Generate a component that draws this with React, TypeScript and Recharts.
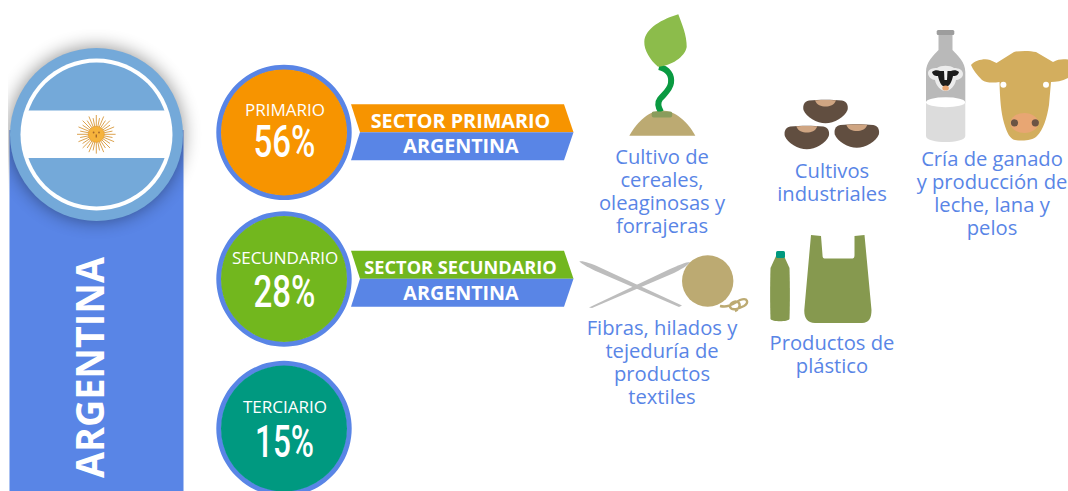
import React from 'react';
import { PieChart, Pie, Cell } from 'recharts';

// sector shares of Argentina
const sectorNames = ['PRIMARIO', 'SECUNDARIO', 'TERCIARIO'];
const sectorShares = [56, 28, 15];
const sectorColors = ['#f79400', '#72b71e', '#009980'];

const bannerTitles = ['SECTOR PRIMARIO', 'SECTOR SECUNDARIO'];
const countryName = 'ARGENTINA';

const activityCaptions = [
    ['Cultivo de', 'cereales,', 'oleaginosas y', 'forrajeras'],
    ['Cultivos', 'industriales'],
    ['Cría de ganado', 'y producción de', 'leche, lana y', 'pelos'],
    ['Fibras, hilados y', 'tejeduría de', 'productos', 'textiles'],
    ['Productos de', 'plástico'],
];

const WIDTH = 1068;
const HEIGHT = 491;
const BLUE = '#5985e6';
const SKY = '#74a9d9';
const FONT = '"Open Sans", "Noto Sans", sans-serif';

// layout only
const CIRCLE_X = 284;
const CIRCLE_Y = [132.4, 279, 428.5];
const NAME_BASE = [116, 264, 413];
const SHARE_BASE = [157, 307, 457];
const CAPTION_POS = [
    { x: 662, y: 164 },
    { x: 832, y: 178 },
    { x: 992, y: 166 },
    { x: 662, y: 335 },
    { x: 832, y: 350 },
];
const BANNER_TOP = [104.3, 250.7];

const Banner = ({ index }: { index: number }) => {
    const top = BANNER_TOP[index];
    const mid = top + 28;
    const bottom = top + 56;
    return (
        <g>
            <polygon points={`351,${top} 564,${top} 573.5,${mid} 360,${mid}`} fill={sectorColors[index]} />
            <polygon points={`360,${mid} 573.5,${mid} 564,${bottom} 351,${bottom}`} fill={BLUE} />
            <text x={460.5} y={mid - 4.5} textAnchor="middle" fill="#fff" fontFamily={FONT} fontWeight={700} fontSize={index === 0 ? 19.8 : 18.2}>
                {bannerTitles[index]}
            </text>
            <text x={461} y={mid + 21} textAnchor="middle" fill="#fff" fontFamily={FONT} fontWeight={700} fontSize={19.7}>
                {countryName}
            </text>
        </g>
    );
};

const Badge = () => {
    const rays = Array.from({ length: 32 }, (_, i) => i * 11.25);
    return (
        <g>
            <defs>
                <filter id="soft" x="-40%" y="-40%" width="180%" height="180%">
                    <feGaussianBlur stdDeviation="9" />
                </filter>
                <clipPath id="page">
                    <rect x={8} y={0} width={WIDTH} height={HEIGHT} />
                </clipPath>
                <clipPath id="flagTop">
                    <rect x={0} y={0} width={200} height={110.5} />
                </clipPath>
                <clipPath id="flagBottom">
                    <rect x={0} y={158} width={200} height={80} />
                </clipPath>
            </defs>
            <rect x={9.5} y={130} width={174} height={361} fill={BLUE} />
            <g clipPath="url(#page)">
                <circle cx={96} cy={134} r={87} fill="#000" opacity={0.42} filter="url(#soft)" />
            </g>
            <circle cx={96.5} cy={134.5} r={86.5} fill={SKY} />
            <circle cx={96.5} cy={134.5} r={76} fill="#fff" />
            <circle cx={96.5} cy={134.5} r={72} fill={SKY} clipPath="url(#flagTop)" />
            <circle cx={96.5} cy={134.5} r={72} fill={SKY} clipPath="url(#flagBottom)" />
            {rays.map((a, i) => {
                const rad = (a * Math.PI) / 180;
                const len = i % 2 === 0 ? 19.3 : 16.5;
                return (
                    <line
                        key={a}
                        x1={96.3}
                        y1={134.3}
                        x2={96.3 + Math.cos(rad) * len}
                        y2={134.3 + Math.sin(rad) * len}
                        stroke="#d8983c"
                        strokeWidth={0.9}
                    />
                );
            })}
            <circle cx={96.3} cy={134.3} r={8} fill="#f6b33c" stroke="#e09a30" strokeWidth={0.6} />
            <circle cx={93.6} cy={132.5} r={0.9} fill="#a5682a" />
            <circle cx={99} cy={132.5} r={0.9} fill="#a5682a" />
            <rect x={95.6} y={134.5} width={1.4} height={3} fill="#a5682a" />
            <text
                transform="translate(103.5,478) rotate(-90)"
                fill="#fff"
                fontFamily={FONT}
                fontWeight={700}
                fontSize={40}
                textLength={221}
                lengthAdjust="spacingAndGlyphs"
            >
                {countryName}
            </text>
        </g>
    );
};

const Seed = ({ x, y }: { x: number; y: number }) => (
    <g transform={`translate(${x},${y})`}>
        <path d="M6,0.6 C16,-0.4 29,-0.4 39,0.6 C44,1.5 45.5,6 44.5,10 C42,17 31,23.3 22.5,23.3 C14,23.3 3,17 0.5,10 C-0.5,6 1,1.5 6,0.6 Z" fill="#614e40" />
        <path d="M12,0.3 C18,0 27,0 33,0.3 C31,5.5 27,6.5 22.5,6.5 C18,6.5 14,5.5 12,0.3 Z" fill="#cfa582" />
    </g>
);

const Icons = () => (
    <g>
        {/* seedling */}
        <path d="M629.3,135.7 C637,122 649,110.5 662,110.5 C675,110.5 688,122 695.3,135.7 Z" fill="#bcaa72" />
        <path d="M659,67 C668,69 672,75 671,83 C670,90 664,94 660,99 C657,103 658,107 661,112" fill="none" stroke="#0a9a41" strokeWidth={6} />
        <rect x={651.7} y={111.5} width={20.5} height={6} rx={2} fill="#8a9c5c" />
        <path d="M678.3,14.3 C682,24 687,36 686.7,47 C685,57 671,66 658,66.7 C650,60 644,50 644.3,41.7 C645,28 663,19 678.3,14.3 Z" fill="#8cbc4b" />
        {/* beans */}
        <Seed x={803} y={100} />
        <Seed x={784.3} y={126} />
        <Seed x={834.3} y={124.5} />
        {/* milk bottle */}
        <path d="M938.5,34 L952.5,34 L952.5,50 C958,56 965.3,62 965.3,72 L965.3,103 L926,103 L926,72 C926,62 933,56 938.5,50 Z" fill="#b9b9b9" />
        <rect x={936.7} y={30} width={17.6} height={5} rx={1.5} fill="#9d9d9d" />
        <path d="M926,102 L965.3,102 L965.3,136 C965.3,140 955,142 945.6,142 C936,142 926,140 926,136 Z" fill="#dcdcdc" />
        <ellipse cx={945.6} cy={102.3} rx={19.6} ry={5} fill="#fff" />
        <path d="M928,73 C928,69 933,68 937,68 C941,65 950,65 954,68 C959,68 963,70 963,74 C963,78 958,80 956,80 C955,86 950,91 945.6,91 C941,91 936,86 935,80 C932,80 928,77 928,73 Z" fill="#ececec" />
        <path d="M932,72 C934,70 938,70 940,71 L951,71 C953,70 957,70 959,72 C958,76 955,76 953,76 C952,81 950,85 948,86 L943,86 C941,85 939,81 938,76 C936,76 933,76 932,72 Z" fill="#1d1d1d" />
        <path d="M944,71 L947.5,71 L947,80 L944.5,80 Z" fill="#f4f4f4" />
        <ellipse cx={945.6} cy={88} rx={3.3} ry={2.6} fill="#e8a673" />
        {/* cow head */}
        <path d="M971,65 C975,60 985,58 990,60 L996.5,63 L1014,52 C1020,50.5 1030,50.5 1036,52 L1053,62 C1058,59 1063,59 1068,59.5 L1068,78 C1062,81 1056,82 1051,82 L1049,105 C1047,118 1043,130 1037,136 C1032,141 1022,141 1015,140 C1010,139 1007,133 1004,123 C1001,112 1000,100 999.5,82 C993,83 986,83 982,80 C977,75 973,70 971,65 Z" fill="#d3ae5e" />
        <circle cx={1003.4} cy={84.7} r={3} fill="#fff" />
        <circle cx={1046} cy={84.7} r={3} fill="#fff" />
        <ellipse cx={1024.3} cy={123} rx={14} ry={10} fill="#e8a673" />
        <circle cx={1014.5} cy={122.8} r={3.6} fill="#6b5444" />
        <circle cx={1035.3} cy={122.8} r={3.6} fill="#6b5444" />
        {/* needles and yarn */}
        <path d="M579.3,261.4 C583,260.6 590,263 600,267.5 L682,305.6 L679,307 L598,272 C590,268.5 582,263.8 579.3,261.4 Z" fill="#bdbdbd" />
        <path d="M589,307.5 L670,269 C678,265.5 686,262 690,262 C688,265.5 680,270 674,273 L592,308 Z" fill="#bdbdbd" />
        <circle cx={707.7} cy={281} r={25.7} fill="#bcaa72" />
        <path d="M720,306 C728,308 733,304 740,300 C748,297 749,303 744,306 C738,309 732,311 730,307 C730,302 736,300 739,303 C741,306 738,310 735,311" fill="none" stroke="#bcaa72" strokeWidth={2.4} />
        {/* plastic bottle and bag */}
        <path d="M776,256 L784,256 L789.5,268 C790,285 790,305 789.5,319 C788,322 772,322 770.5,319 C770,305 770,285 770.5,268 Z" fill="#86994f" />
        <rect x={776} y={251} width={9} height={7} rx={1.5} fill="#00997f" />
        <path d="M811,235 L821,236 L822.5,255 C822.5,258 823.5,258.5 826,258.5 L851,258.5 C853.5,258.5 854.5,258 854.5,255 L854.5,236 L864.5,235 L871.5,310 C871.5,318 869,323 862,323 L815,323 C807,323 804,317 804.3,310 Z" fill="#86994f" />
    </g>
);

const Captions = () => (
    <g fill={BLUE} fontFamily={FONT} fontWeight={500} fontSize={20.2} textAnchor="middle">
        {activityCaptions.map((lines, i) => (
            <text key={i}>
                {lines.map((line, j) => (
                    <tspan key={j} x={CAPTION_POS[i].x} y={CAPTION_POS[i].y + j * 23}>
                        {line}
                    </tspan>
                ))}
            </text>
        ))}
    </g>
);

const App = () => (
    <div style={{ position: 'absolute', left: 0, top: 0, width: WIDTH, height: HEIGHT, overflow: 'hidden', background: '#fff' }}>
        <PieChart width={WIDTH} height={HEIGHT} margin={{ top: 0, right: 0, bottom: 0, left: 0 }}>
            <Badge />
            <Icons />
            <Banner index={0} />
            <Banner index={1} />
            <Captions />
            {sectorNames.map((name, i) => (
                <Pie
                    key={`ring-${name}`}
                    data={[{ name, value: sectorShares[i] }]}
                    dataKey="value"
                    cx={CIRCLE_X}
                    cy={CIRCLE_Y[i]}
                    innerRadius={62.5}
                    outerRadius={67.7}
                    startAngle={90}
                    endAngle={-270}
                    stroke="none"
                    isAnimationActive={false}
                >
                    <Cell fill={BLUE} />
                </Pie>
            ))}
            {sectorNames.map((name, i) => (
                <Pie
                    key={`fill-${name}`}
                    data={[{ name, value: sectorShares[i] }]}
                    dataKey="value"
                    cx={CIRCLE_X}
                    cy={CIRCLE_Y[i]}
                    innerRadius={0}
                    outerRadius={63}
                    startAngle={90}
                    endAngle={-270}
                    stroke="none"
                    isAnimationActive={false}
                    labelLine={false}
                    label={() => (
                        <g>
                            <text x={285} y={NAME_BASE[i]} textAnchor="middle" fill="#fff" fontFamily={FONT} fontSize={17}>
                                {name}
                            </text>
                            <text
                                x={284.5}
                                y={SHARE_BASE[i]}
                                textAnchor="middle"
                                fill="#fff"
                                fontFamily="Roboto, sans-serif"
                                fontWeight={500}
                                fontSize={44}
                                textLength={i === 2 ? 59 : 62}
                                lengthAdjust="spacingAndGlyphs"
                            >
                                {`${sectorShares[i]}%`}
                            </text>
                        </g>
                    )}
                >
                    <Cell fill={sectorColors[i]} />
                </Pie>
            ))}
        </PieChart>
    </div>
);

export default App;
